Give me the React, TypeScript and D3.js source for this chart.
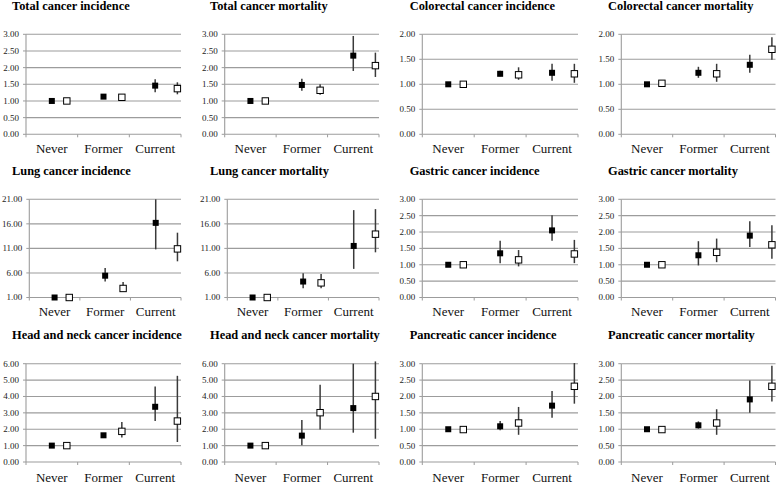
import React from "react";
import * as d3 from "d3";

const categories = ["Never", "Former", "Current"];

const titles = [
  "Total cancer incidence",
  "Total cancer mortality",
  "Colorectal cancer incidence",
  "Colorectal cancer mortality",
  "Lung cancer incidence",
  "Lung cancer mortality",
  "Gastric cancer incidence",
  "Gastric cancer mortality",
  "Head and neck cancer incidence",
  "Head and neck cancer mortality",
  "Pancreatic cancer incidence",
  "Pancreatic cancer mortality",
];

// y-axis domains and tick steps per panel
const yDomains = [
  [0, 3], [0, 3], [0, 2], [0, 2],
  [1, 21], [1, 21], [0, 3], [0, 3],
  [0, 6], [0, 6], [0, 3], [0, 3],
];
const yTickSteps = [0.5, 0.5, 0.5, 0.5, 5, 5, 0.5, 0.5, 1, 1, 0.5, 0.5];

// [estimate, lower, upper] for Never, Former, Current
const totalIncFilled = [[1.0, 1.0, 1.0], [1.13, 1.08, 1.18], [1.46, 1.26, 1.65]];
const totalIncOpen = [[1.0, 0.98, 1.02], [1.11, 1.06, 1.16], [1.37, 1.2, 1.56]];
const totalMortFilled = [[1.0, 1.0, 1.0], [1.48, 1.31, 1.67], [2.36, 1.9, 2.95]];
const totalMortOpen = [[1.0, 0.98, 1.02], [1.32, 1.19, 1.5], [2.06, 1.72, 2.45]];
const colorIncFilled = [[1.0, 1.0, 1.0], [1.21, 1.16, 1.27], [1.23, 1.07, 1.41]];
const colorIncOpen = [[1.0, 0.98, 1.02], [1.19, 1.09, 1.34], [1.21, 1.03, 1.41]];
const colorMortFilled = [[1.0, 1.0, 1.0], [1.23, 1.13, 1.35], [1.39, 1.23, 1.59]];
const colorMortOpen = [[1.02, 0.98, 1.05], [1.21, 1.05, 1.41], [1.7, 1.49, 1.94]];
const lungIncFilled = [[1.0, 1.0, 1.0], [5.44, 4.28, 7.0], [16.2, 10.8, 21.0]];
const lungIncOpen = [[1.0, 0.9, 1.1], [2.84, 2.23, 4.14], [10.9, 8.37, 14.2]];
const lungMortFilled = [[1.0, 1.0, 1.0], [4.25, 2.9, 5.95], [11.5, 6.83, 18.8]];
const lungMortOpen = [[1.0, 0.9, 1.1], [3.98, 2.9, 5.8], [13.9, 10.2, 19.0]];
const gastIncFilled = [[1.0, 1.0, 1.0], [1.35, 1.05, 1.73], [2.05, 1.73, 2.51]];
const gastIncOpen = [[1.0, 0.97, 1.03], [1.15, 0.95, 1.45], [1.33, 1.05, 1.76]];
const gastMortFilled = [[1.0, 1.0, 1.0], [1.29, 0.98, 1.72], [1.89, 1.54, 2.33]];
const gastMortOpen = [[1.0, 0.97, 1.03], [1.38, 1.08, 1.8], [1.61, 1.18, 2.21]];
const hnIncFilled = [[1.0, 1.0, 1.0], [1.63, 1.5, 1.76], [3.37, 2.5, 4.61]];
const hnIncOpen = [[1.0, 0.95, 1.05], [1.87, 1.5, 2.44], [2.5, 1.22, 5.26]];
const hnMortFilled = [[1.0, 1.0, 1.0], [1.61, 1.02, 2.56], [3.29, 1.79, 6.0]];
const hnMortOpen = [[1.0, 0.95, 1.05], [3.01, 1.99, 4.72], [4.0, 1.42, 6.14]];
const pancIncFilled = [[1.0, 1.0, 1.0], [1.09, 0.97, 1.25], [1.72, 1.35, 2.17]];
const pancIncOpen = [[0.99, 0.96, 1.02], [1.19, 0.83, 1.68], [2.31, 1.78, 3.02]];
const pancMortFilled = [[1.0, 1.0, 1.0], [1.12, 1.02, 1.24], [1.91, 1.5, 2.49]];
const pancMortOpen = [[0.99, 0.96, 1.02], [1.19, 0.83, 1.61], [2.31, 1.85, 2.94]];

const filledSeries = [
  totalIncFilled, totalMortFilled, colorIncFilled, colorMortFilled,
  lungIncFilled, lungMortFilled, gastIncFilled, gastMortFilled,
  hnIncFilled, hnMortFilled, pancIncFilled, pancMortFilled,
];
const openSeries = [
  totalIncOpen, totalMortOpen, colorIncOpen, colorMortOpen,
  lungIncOpen, lungMortOpen, gastIncOpen, gastMortOpen,
  hnIncOpen, hnMortOpen, pancIncOpen, pancMortOpen,
];

// ---- layout (not data) ----
const W = 778;
const H = 484;
const axisLefts = [
  [26, 224.7, 422.3, 621.3],
  [29.3, 227.3, 422.3, 621.3],
  [26, 224.7, 422.3, 621.3],
];
const axisRights = [181, 379, 578, 775.5];
const rowTops = [34.3, 199.3, 363.7];
const rowBottoms = [134.3, 297.5, 462];
const titleX = [12, 210, 409.7, 608];
const titleY = [9.8, 175, 339];
const xLabelY = [152.7, 316, 482];
const openShift = [0.29, 0.355, 0.43];

const GRID = "#9c9c9c";
const ERR = "#3a3a3a";
const FONT = "'Liberation Serif', 'Times New Roman', serif";

function Panel({ idx }: { idx: number }) {
  const row = Math.floor(idx / 4);
  const col = idx % 4;
  const left = axisLefts[row][col];
  const right = axisRights[col];
  const top = rowTops[row];
  const bottom = rowBottoms[row];
  const [d0, d1] = yDomains[idx];
  const step = yTickSteps[idx];
  const x = d3.scaleBand<string>().domain(categories).range([left, right]).padding(0);
  const bw = x.bandwidth();
  const y = d3.scaleLinear().domain([d0, d1]).range([bottom, top]);
  const ticks = d3.range(d0, d1 + step / 2, step);
  const fmt = d3.format(".2f");
  const filled = filledSeries[idx];
  const open = openSeries[idx];
  const boundaries = [left, ...categories.map((c) => (x(c) as number) + bw)];

  return (
    <g>
      <text x={titleX[col]} y={titleY[row]} fontFamily={FONT} fontWeight="bold" fontSize={12.4} fill="#000">
        {titles[idx]}
      </text>
      {ticks.map((t) => (
        <g key={t}>
          <line x1={left} x2={right} y1={y(t)} y2={y(t)} stroke={GRID} strokeWidth={1.1} />
          <line x1={left - 3} x2={left} y1={y(t)} y2={y(t)} stroke={GRID} strokeWidth={1} />
          <text x={left - 7} y={y(t)} dy="0.33em" textAnchor="end" fontFamily={FONT} fontSize={9} fill="#222">
            {fmt(t)}
          </text>
        </g>
      ))}
      <line x1={left} x2={left} y1={top} y2={bottom} stroke={GRID} strokeWidth={1.1} />
      {boundaries.map((bx, i) => (
        <line key={i} x1={bx} x2={bx} y1={bottom} y2={bottom + 3} stroke={GRID} strokeWidth={1} />
      ))}
      {categories.map((c) => (
        <text key={c} x={(x(c) as number) + bw / 2} y={xLabelY[row]} textAnchor="middle" fontFamily={FONT} fontSize={13} fill="#111">
          {c}
        </text>
      ))}
      {categories.map((c, i) => {
        const cx = (x(c) as number) + bw / 2;
        const ox = cx + bw * openShift[i];
        const [fe, fl, fh] = filled[i];
        const [oe, ol, oh] = open[i];
        return (
          <g key={c}>
            <line x1={cx} x2={cx} y1={y(fl)} y2={y(fh)} stroke={ERR} strokeWidth={1.5} />
            <line x1={ox} x2={ox} y1={y(ol)} y2={y(oh)} stroke={ERR} strokeWidth={1.5} />
            <rect x={cx - 3} y={y(fe) - 3} width={6} height={6} fill="#000" />
            <rect x={ox - 3.2} y={y(oe) - 3.2} width={6.4} height={6.4} fill="#fff" stroke="#000" strokeWidth={1} />
          </g>
        );
      })}
    </g>
  );
}

export default function App() {
  return (
    <svg
      width={W}
      height={H}
      viewBox={`0 0 ${W} ${H}`}
      style={{ position: "absolute", left: 0, top: 0, background: "#fff" }}
    >
      <rect x={0} y={0} width={W} height={H} fill="#fff" />
      {titles.map((_, i) => (
        <Panel key={i} idx={i} />
      ))}
    </svg>
  );
}
